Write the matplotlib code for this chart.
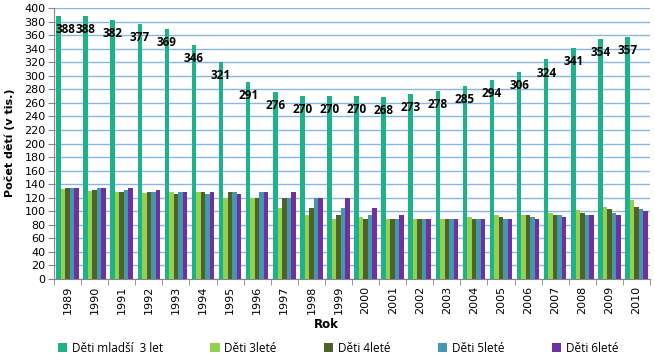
import matplotlib
matplotlib.use("Agg")
import matplotlib.pyplot as plt
import numpy as np

years = [str(y) for y in range(1989, 2011)]
mladsi3 = [388, 388, 382, 377, 369, 346, 321, 291, 276, 270, 270, 270, 268, 273, 278, 285, 294, 306, 324, 341, 354, 357]
leta3 = [133, 130, 129, 127, 128, 128, 120, 120, 105, 95, 89, 91, 89, 88, 89, 91, 94, 94, 98, 102, 107, 116]
leta4 = [135, 132, 128, 129, 126, 128, 128, 120, 120, 105, 95, 89, 89, 89, 88, 89, 92, 94, 94, 98, 104, 107]
leta5 = [135, 134, 131, 128, 129, 126, 128, 128, 120, 120, 105, 95, 89, 89, 89, 88, 89, 92, 94, 95, 98, 104]
leta6 = [135, 135, 134, 131, 128, 129, 126, 128, 128, 120, 120, 105, 95, 89, 89, 89, 88, 89, 92, 94, 95, 100]

series = [
    ("Děti mladší  3 let", mladsi3, "#1DB288"),
    ("Děti 3leté", leta3, "#92D050"),
    ("Děti 4leté", leta4, "#4F6228"),
    ("Děti 5leté", leta5, "#4398AE"),
    ("Děti 6leté", leta6, "#7030A0"),
]

fig = plt.figure(figsize=(6.55, 3.57), dpi=100)
ax = fig.add_axes([54/655, 1-279/357, (650-54)/655, (279-8)/357])

x = np.arange(len(years))
w = 0.166
handles = []
for i, (name, vals, col) in enumerate(series):
    off = (i - 2) * w
    b = ax.bar(x + off, vals, width=w, color=col, label=name, zorder=3, linewidth=0)
    handles.append(b)

for xi, v in zip(x, mladsi3):
    xx = xi - 2 * w
    if xi == 0:
        xx += 0.25
    ax.text(xx, v - 20, str(v), ha="center", va="center", fontsize=8.5,
            fontweight="bold", family="Open Sans", color="black", zorder=4)

ax.set_xlim(-0.5, len(years) - 0.5)
ax.set_ylim(0, 400)
ax.set_yticks(np.arange(0, 401, 20))
ax.set_xticks(x)
ax.set_xticklabels(years, rotation=90, fontsize=8)
ax.set_xticks(np.arange(-0.5, len(years), 1), minor=True)
ax.tick_params(axis="x", which="major", length=0, pad=5)
ax.tick_params(axis="x", which="minor", length=4, color="#868686", direction="out")
ax.tick_params(axis="y", length=4, color="#868686", direction="out", labelsize=8, pad=2)
ax.yaxis.grid(True, color="#8DB4E2", linewidth=1, zorder=0)
ax.set_axisbelow(True)
for s in ["top", "right"]:
    ax.spines[s].set_visible(False)
for s in ["left", "bottom"]:
    ax.spines[s].set_color("#868686")

fig.text(10/655, 1-143/357, "Počet dětí (v tis.)", rotation=90, ha="center", va="center",
         fontsize=8, fontweight="bold")
fig.text(326/655, 1-325/357, "Rok", ha="center", va="center", fontsize=8.5, fontweight="bold")

leg = fig.legend(handles=handles, loc="center", bbox_to_anchor=(338/655, 1-348/357), ncol=5,
                 frameon=False, handlelength=0.8, handleheight=0.8,
                 handletextpad=0.4, columnspacing=4.0, borderaxespad=0,
                 prop={"family": "Open Sans", "size": 8.5})

fig.savefig("out.png", dpi=100)
